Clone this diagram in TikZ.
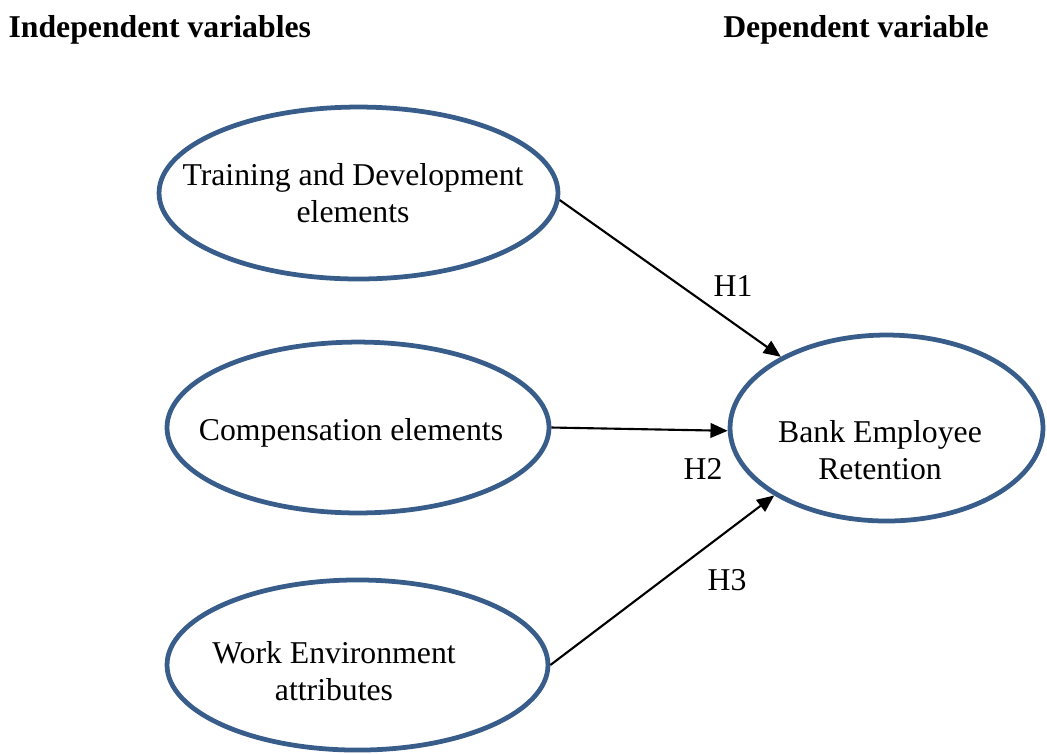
\documentclass[tikz,border=0pt]{standalone}
\usepackage{fontspec}
\setmainfont{Liberation Serif}
\usepackage{xcolor}
\usepackage{tikz}
\usetikzlibrary{shapes.geometric}
\usetikzlibrary{arrows.meta}
\definecolor{ovalblue}{RGB}{56,93,138}
\begin{document}
\begin{tikzpicture}[x=0.378pt, y=-0.378pt,
    oval/.style={ellipse, draw=ovalblue, line width=1.8pt, inner sep=0pt},
    txt/.style={align=center, font=\fontsize{12}{14}\selectfont},
    link/.style={line width=0.8pt, -{Triangle[length=6.5pt, width=5.5pt]}}]
\useasboundingbox (0,0) rectangle (1047,753);

\node[txt, font=\fontsize{12}{14}\selectfont\bfseries, anchor=west, inner sep=0pt] (indep) at (8,30) {Independent variables};
\node[txt, font=\fontsize{12}{14}\selectfont\bfseries] (dep) at (856,30) {Dependent variable};

 \node[oval, minimum width=150.8pt, minimum height=65pt] (train) at (358.5,193) {};
 \node[txt] (traintxt) at (353,193) {Training and Development\\elements};

 \node[oval, minimum width=144.4pt, minimum height=64.6pt] (comp) at (358,427.5) {};
 \node[txt] (comptxt) at (351,433) {Compensation elements};

 \node[oval, minimum width=144pt, minimum height=64.3pt] (work) at (357.5,665) {};
 \node[txt] (worktxt) at (334,671) {Work Environment\\attributes};

 \node[oval, minimum width=118.3pt, minimum height=70.3pt] (bank) at (886.5,428) {};
 \node[txt] (banktxt) at (880,450) {Bank Employee\\Retention};

\draw [link] (train.-2) -- (bank.146);
\draw [link] (comp.east) -- (bank.181);
\draw [link] (work.east) -- (bank.211);

\node[txt] (h1) at (733,286) {H1};
\node[txt] (h2) at (703,469) {H2};
\node[txt] (h3) at (727,580) {H3};

\end{tikzpicture}
\end{document}
